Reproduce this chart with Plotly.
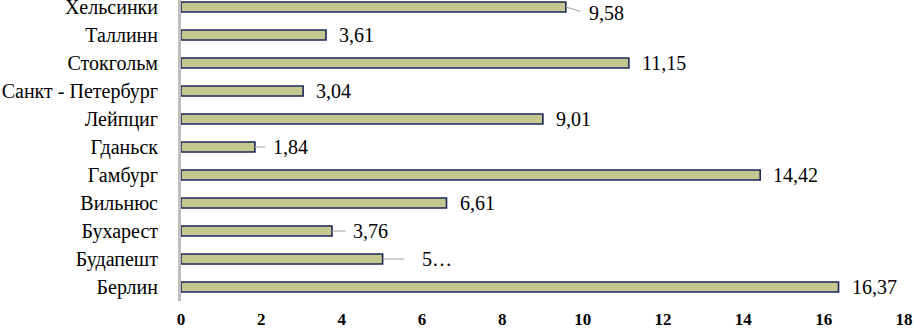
import plotly.graph_objects as go

cities = ["Берлин", "Будапешт", "Бухарест", "Вильнюс", "Гамбург", "Гданьск",
          "Лейпциг", "Санкт - Петербург", "Стокгольм", "Таллинн", "Хельсинки"]
values = [16.37, 5.02, 3.76, 6.61, 14.42, 1.84, 9.01, 3.04, 11.15, 3.61, 9.58]
labels = ["16,37", "5…", "3,76", "6,61", "14,42", "1,84", "9,01", "3,04", "11,15", "3,61", "9,58"]
x_ticks = [0, 2, 4, 6, 8, 10, 12, 14, 16, 18]

# label placement style: (leader length px, text x-offset px, text y-offset px)
label_style = {
    "Будапешт": (23, 37, 0),
    "Бухарест": (15, 19, 0),
    "Гданьск": (12, 16, 0),
    "Хельсинки": (16, 21, -6),
}

SERIF = "Times New Roman"

fig = go.Figure()
fig.add_trace(go.Bar(
    y=cities, x=values, orientation="h", width=0.36,
    marker=dict(color="#c6c690", line=dict(color="#1c2858", width=1.6)),
    hoverinfo="skip",
))

for c, v, t in zip(cities, values, labels):
    L, dx, dy = label_style.get(c, (0, 11, 0))
    if L:
        fig.add_annotation(x=v, y=c, text="", showarrow=True, ax=L, ay=-dy * 0.8,
                           arrowhead=0, arrowwidth=1, arrowcolor="#a0a0a0",
                           standoff=0, startstandoff=0)
    fig.add_annotation(x=v, y=c, text=t, showarrow=False, xanchor="left",
                       xshift=dx, yshift=dy,
                       font=dict(family=SERIF, size=20, color="#000"))

fig.update_layout(
    width=914, height=330,
    margin=dict(l=181, r=10, t=0, b=29),
    paper_bgcolor="white", plot_bgcolor="white",
    showlegend=False,
    font=dict(family=SERIF, color="#000"),
    xaxis=dict(range=[0, 18], tickvals=x_ticks, showgrid=False, zeroline=False,
               showline=False, ticks="", automargin=False, ticklabelstandoff=6,
               tickfont=dict(family=SERIF, size=17, color="#000", weight="bold")),
    yaxis=dict(range=[-0.5, 10.25], showgrid=False, zeroline=False,
               showline=True, linecolor="#bfbfbf", linewidth=3, ticks="",
               ticklabelstandoff=16, automargin=False,
               tickfont=dict(family=SERIF, size=20, color="#000")),
)

fig.write_html("out.html", config={"displayModeBar": False},
               post_script="document.body.style.margin='0';document.body.style.overflow='hidden';")
